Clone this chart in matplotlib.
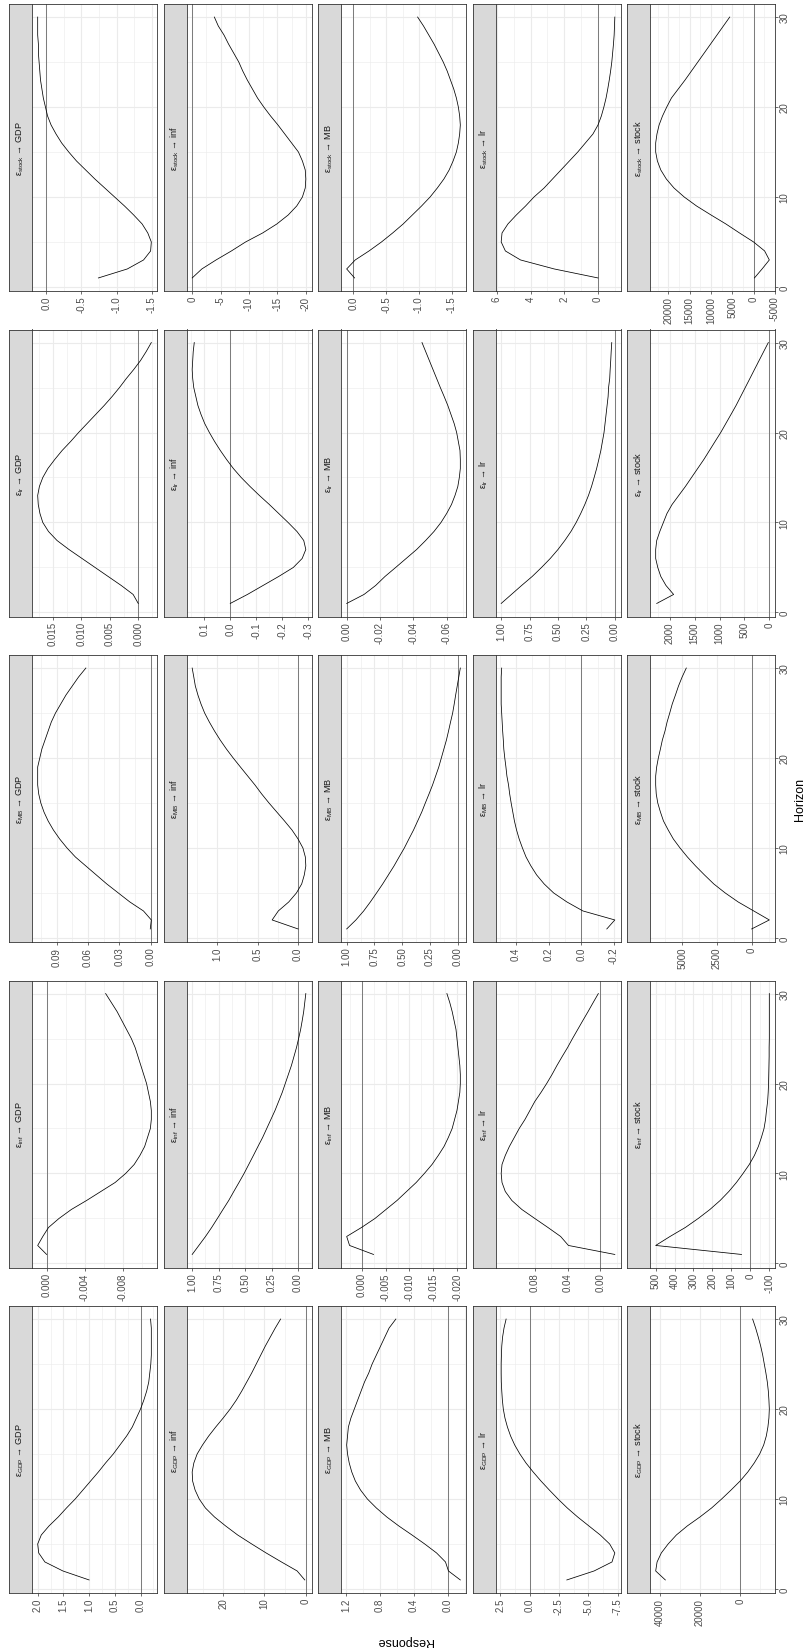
import numpy as np
import matplotlib
matplotlib.use('Agg')
import matplotlib.pyplot as plt
from matplotlib.ticker import FixedLocator

plt.rcParams['font.family'] = ['Liberation Sans', 'DejaVu Sans']
plt.rcParams['mathtext.fontset'] = 'custom'
plt.rcParams['mathtext.rm'] = 'Liberation Sans'
plt.rcParams['mathtext.it'] = 'Liberation Sans:italic'

variables = ['GDP', 'inf', 'MB', 'lr', 'stock']
horizon = list(range(1, 31))

# impulse responses, named shock_response
gdp_gdp = [1.0, 1.51, 1.86, 1.98, 2.0, 1.93, 1.78, 1.60, 1.44, 1.27, 1.12, 0.97, 0.82, 0.68, 0.53,
           0.40, 0.27, 0.16, 0.08, 0.0, -0.065, -0.12, -0.16, -0.18, -0.2, -0.21, -0.21, -0.21, -0.21, -0.195]
gdp_inf = [0.25, 2.1, 5.9, 9.6, 13.1, 16.5, 19.4, 22.1, 24.3, 25.8, 26.8, 27.4, 27.5, 27.1, 26.3,
           25.0, 23.5, 21.8, 20.0, 18.3, 16.8, 15.5, 14.3, 13.1, 12.0, 10.9, 9.8, 8.6, 7.4, 6.1]
gdp_mb = [-0.15, -0.01, 0.025, 0.13, 0.27, 0.42, 0.575, 0.717, 0.84, 0.946, 1.027, 1.088, 1.13, 1.16, 1.18,
          1.19, 1.18, 1.17, 1.14, 1.10, 1.06, 1.02, 0.98, 0.93, 0.89, 0.84, 0.79, 0.74, 0.69, 0.61]
gdp_lr = [-3.16, -5.48, -7.0, -7.24, -6.8, -6.0, -5.04, -4.08, -3.2, -2.41, -1.67, -0.96, -0.3, 0.31, 0.83,
          1.27, 1.62, 1.89, 2.1, 2.24, 2.32, 2.37, 2.41, 2.42, 2.42, 2.40, 2.37, 2.30, 2.18, 2.0]
gdp_stock = [37200, 42000, 41300, 39200, 35800, 31700, 26300, 20000, 14200, 9200, 4500, 0, -3800, -7000, -9700,
             -11700, -13000, -13800, -14300, -14500, -14300, -14000, -13500, -12800, -12000, -11200, -10200, -9000, -7700, -6200]

inf_gdp = [0, 0.00094, 0.0004, -0.0002, -0.0013, -0.0026, -0.0042, -0.0057, -0.0072, -0.0083, -0.0092, -0.0098,
           -0.0103, -0.0106, -0.0109, -0.011, -0.011, -0.0109, -0.0107, -0.0105, -0.0102, -0.0099, -0.0096, -0.0093,
           -0.0089, -0.0084, -0.0079, -0.0074, -0.0068, -0.0062]
inf_inf = [1.0, 0.937, 0.874, 0.816, 0.762, 0.709, 0.655, 0.607, 0.558, 0.51, 0.466, 0.422, 0.379, 0.335, 0.296,
           0.257, 0.218, 0.184, 0.15, 0.121, 0.092, 0.063, 0.039, 0.015, -0.005, -0.024, -0.039, -0.053, -0.063, -0.073]
inf_mb = [-0.0025, 0.0025, 0.0031, 0.0, -0.0028, -0.0051, -0.0074, -0.0094, -0.0114, -0.0131, -0.0147, -0.016,
          -0.0172, -0.0181, -0.0189, -0.0194, -0.0199, -0.0202, -0.0205, -0.0206, -0.0206, -0.0205, -0.0203, -0.0201,
          -0.0199, -0.0197, -0.0193, -0.0189, -0.0184, -0.0178]
inf_lr = [-0.0176, 0.039, 0.0485, 0.064, 0.08, 0.0958, 0.108, 0.116, 0.12, 0.121, 0.12, 0.116, 0.111, 0.105, 0.099,
          0.092, 0.086, 0.08, 0.0725, 0.0655, 0.059, 0.053, 0.0466, 0.040, 0.034, 0.0277, 0.0214, 0.015, 0.0088, 0.0025]
inf_stock = [46, 500, 424, 343, 275, 213, 159, 113, 73, 38, 5, -22, -43, -59, -73,
             -81, -86, -92, -95, -97, -98, -99, -100, -100, -101, -101, -101, -101, -101, -101]

mb_gdp = [0.0005, -0.0005, 0.007, 0.020, 0.031, 0.042, 0.052, 0.062, 0.072, 0.080, 0.087, 0.093, 0.098, 0.102, 0.105,
          0.107, 0.108, 0.108, 0.108, 0.106, 0.104, 0.101, 0.098, 0.095, 0.091, 0.086, 0.081, 0.075, 0.069, 0.062]
mb_inf = [0.0, 0.32, 0.244, 0.115, 0.02, -0.045, -0.077, -0.096, -0.09, -0.06, 0.0, 0.075, 0.167, 0.263, 0.359,
          0.449, 0.532, 0.622, 0.712, 0.801, 0.885, 0.962, 1.032, 1.096, 1.154, 1.199, 1.237, 1.269, 1.288, 1.308]
mb_mb = [1.0, 0.917, 0.847, 0.787, 0.731, 0.676, 0.625, 0.574, 0.528, 0.481, 0.44, 0.398, 0.361, 0.324, 0.292,
         0.259, 0.227, 0.199, 0.171, 0.148, 0.125, 0.102, 0.083, 0.065, 0.046, 0.032, 0.019, 0.005, -0.009, -0.023]
mb_lr = [-0.156, -0.205, -0.01, 0.088, 0.169, 0.227, 0.273, 0.308, 0.338, 0.36, 0.38, 0.396, 0.409, 0.419, 0.429,
         0.438, 0.445, 0.455, 0.461, 0.468, 0.474, 0.477, 0.481, 0.484, 0.487, 0.49, 0.49, 0.49, 0.49, 0.487]
mb_stock = [0, -1270, -150, 970, 1900, 2720, 3390, 4030, 4620, 5150, 5630, 6000, 6340, 6560, 6750,
            6860, 6900, 6900, 6830, 6710, 6560, 6420, 6230, 6080, 5890, 5710, 5480, 5260, 5000, 4700]

lr_gdp = [0, 0.0009, 0.003, 0.0053, 0.0076, 0.0099, 0.0122, 0.0143, 0.0158, 0.0168, 0.0173, 0.0176, 0.0177, 0.0174,
          0.0168, 0.0159, 0.0147, 0.0134, 0.0119, 0.0105, 0.0090, 0.0075, 0.0060, 0.0046, 0.0033, 0.0021, 0.0008,
          -0.0004, -0.0014, -0.0023]
lr_inf = [0, -0.066, -0.126, -0.186, -0.242, -0.276, -0.29, -0.282, -0.256, -0.222, -0.186, -0.15, -0.112, -0.076,
          -0.042, -0.012, 0.014, 0.038, 0.06, 0.08, 0.098, 0.112, 0.124, 0.132, 0.14, 0.144, 0.146, 0.144, 0.142, 0.138]
lr_mb = [0, -0.0104, -0.0174, -0.023, -0.0294, -0.0357, -0.042, -0.0474, -0.0524, -0.0566, -0.06, -0.0629, -0.065,
         -0.0667, -0.0676, -0.0682, -0.0682, -0.068, -0.067, -0.066, -0.0645, -0.0626, -0.0607, -0.0585, -0.0562,
         -0.054, -0.0518, -0.0496, -0.0474, -0.0452]
lr_lr = [1.0, 0.91, 0.82, 0.727, 0.645, 0.568, 0.5, 0.44, 0.386, 0.34, 0.3, 0.264, 0.232, 0.205, 0.182,
         0.16, 0.141, 0.123, 0.109, 0.095, 0.086, 0.077, 0.068, 0.059, 0.055, 0.045, 0.041, 0.036, 0.032, 0.027]
lr_stock = [2266, 1926, 2080, 2184, 2245, 2287, 2287, 2266, 2204, 2132, 2060, 1957, 1823, 1689, 1566,
            1442, 1318, 1205, 1092, 978, 875, 772, 670, 577, 484, 391, 299, 206, 113, 20]

stock_gdp = [-0.74, -1.15, -1.38, -1.48, -1.49, -1.44, -1.36, -1.24, -1.11, -0.97, -0.83, -0.69, -0.56, -0.43, -0.32,
             -0.22, -0.14, -0.07, -0.02, 0.01, 0.04, 0.06, 0.08, 0.09, 0.10, 0.11, 0.11, 0.12, 0.12, 0.12]
stock_inf = [0, -1.7, -4.2, -6.9, -9.4, -12.4, -14.9, -16.9, -18.4, -19.4, -19.9, -20.0, -19.9, -19.4, -18.7,
             -17.5, -16.3, -15.1, -13.8, -12.6, -11.5, -10.6, -9.7, -8.9, -8.2, -7.3, -6.4, -5.6, -4.6, -3.9]
stock_mb = [-0.02, 0.10, -0.03, -0.24, -0.43, -0.60, -0.76, -0.90, -1.04, -1.17, -1.28, -1.38, -1.46, -1.52, -1.57,
            -1.60, -1.62, -1.63, -1.62, -1.60, -1.57, -1.53, -1.48, -1.43, -1.37, -1.30, -1.23, -1.15, -1.07, -0.98]
stock_lr = [0, 2.6, 4.6, 5.5, 5.75, 5.7, 5.35, 4.85, 4.3, 3.8, 3.2, 2.7, 2.2, 1.7, 1.2,
            0.75, 0.3, 0.0, -0.2, -0.35, -0.48, -0.58, -0.67, -0.75, -0.82, -0.87, -0.92, -0.96, -0.98, -1.0]
stock_stock = [-200, -2000, -3700, -2600, 0, 3300, 6500, 10000, 13400, 16300, 18700, 20500, 21800, 22600, 23000,
               23000, 22700, 22200, 21400, 20400, 19300, 17700, 16100, 14600, 13100, 11600, 10100, 8600, 7100, 5600]

irf = {
    ('GDP', 'GDP'): gdp_gdp, ('GDP', 'inf'): gdp_inf, ('GDP', 'MB'): gdp_mb, ('GDP', 'lr'): gdp_lr, ('GDP', 'stock'): gdp_stock,
    ('inf', 'GDP'): inf_gdp, ('inf', 'inf'): inf_inf, ('inf', 'MB'): inf_mb, ('inf', 'lr'): inf_lr, ('inf', 'stock'): inf_stock,
    ('MB', 'GDP'): mb_gdp, ('MB', 'inf'): mb_inf, ('MB', 'MB'): mb_mb, ('MB', 'lr'): mb_lr, ('MB', 'stock'): mb_stock,
    ('lr', 'GDP'): lr_gdp, ('lr', 'inf'): lr_inf, ('lr', 'MB'): lr_mb, ('lr', 'lr'): lr_lr, ('lr', 'stock'): lr_stock,
    ('stock', 'GDP'): stock_gdp, ('stock', 'inf'): stock_inf, ('stock', 'MB'): stock_mb, ('stock', 'lr'): stock_lr,
    ('stock', 'stock'): stock_stock,
}

# response axis breaks per panel
breaks = {
    ('GDP', 'GDP'): [2.0, 1.5, 1.0, 0.5, 0.0], ('GDP', 'inf'): [20, 10, 0], ('GDP', 'MB'): [1.2, 0.8, 0.4, 0.0],
    ('GDP', 'lr'): [2.5, 0.0, -2.5, -5.0, -7.5], ('GDP', 'stock'): [40000, 20000, 0],
    ('inf', 'GDP'): [0.000, -0.004, -0.008], ('inf', 'inf'): [1.00, 0.75, 0.50, 0.25, 0.00],
    ('inf', 'MB'): [0.000, -0.005, -0.010, -0.015, -0.020], ('inf', 'lr'): [0.08, 0.04, 0.00],
    ('inf', 'stock'): [500, 400, 300, 200, 100, 0, -100],
    ('MB', 'GDP'): [0.09, 0.06, 0.03, 0.00], ('MB', 'inf'): [1.0, 0.5, 0.0], ('MB', 'MB'): [1.00, 0.75, 0.50, 0.25, 0.00],
    ('MB', 'lr'): [0.4, 0.2, 0.0, -0.2], ('MB', 'stock'): [5000, 2500, 0],
    ('lr', 'GDP'): [0.015, 0.010, 0.005, 0.000], ('lr', 'inf'): [0.1, 0.0, -0.1, -0.2, -0.3],
    ('lr', 'MB'): [0.00, -0.02, -0.04, -0.06], ('lr', 'lr'): [1.00, 0.75, 0.50, 0.25, 0.00],
    ('lr', 'stock'): [2000, 1500, 1000, 500, 0],
    ('stock', 'GDP'): [0.0, -0.5, -1.0, -1.5], ('stock', 'inf'): [0, -5, -10, -15, -20],
    ('stock', 'MB'): [0.0, -0.5, -1.0, -1.5], ('stock', 'lr'): [6, 4, 2, 0],
    ('stock', 'stock'): [20000, 15000, 10000, 5000, 0, -5000],
}


def labels_for(ticks):
    for d in range(6):
        if all(abs(round(t, d) - t) < 1e-9 for t in ticks):
            break
    return [f"{t:.{d}f}" for t in ticks]


W, H = 808, 1649
fig = plt.figure(figsize=(W / 100, H / 100), dpi=100)


def box(left, top, w, h):
    return [left / W, 1 - (top + h) / H, w / W, h / H]


border = '#333333'
grid = '#EBEBEB'
strip_w, panel_w, panel_h = 23, 148, 287

for r in range(5):
    shock = variables[4 - r]
    for c in range(5):
        resp = variables[c]
        left = 9 + 154.5 * c
        top = 5 + 325.5 * r

        sax = fig.add_axes(box(left, top, strip_w, panel_h))
        sax.set_facecolor('#D9D9D9')
        sax.set_xticks([])
        sax.set_yticks([])
        for s in sax.spines.values():
            s.set_color(border)
            s.set_linewidth(0.6)
        sax.text(0.5, 0.5, r'$\mathrm{\varepsilon}_{\mathrm{%s}}$ → %s' % (shock, resp),
                 rotation=90, ha='center', va='center', transform=sax.transAxes,
                 fontsize=6.6, color='#1A1A1A')

        ax = fig.add_axes(box(left + strip_w, top, panel_w - strip_w, panel_h))
        vals = np.array(irf[(shock, resp)])
        lo = min(vals.min(), 0)
        hi = max(vals.max(), 0)
        pad = (hi - lo) * 0.05
        ax.set_xlim(hi + pad, lo - pad)
        ax.set_ylim(-0.45, 31.45)

        tk = breaks[(shock, resp)]
        step = abs(tk[0] - tk[1])
        minor = np.arange(min(tk) - step / 2, max(tk) + step, step)
        minor = [m for m in minor if lo - pad <= m <= hi + pad]
        ax.xaxis.set_major_locator(FixedLocator(tk))
        ax.xaxis.set_minor_locator(FixedLocator(minor))
        ax.set_xticklabels(labels_for(tk))
        ax.yaxis.set_major_locator(FixedLocator([0, 10, 20, 30]))
        ax.yaxis.set_minor_locator(FixedLocator([5, 15, 25]))

        ax.grid(which='major', color=grid, lw=0.8)
        ax.grid(which='minor', color=grid, lw=0.4)
        ax.set_axisbelow(True)

        ax.axvline(0, color='#4D4D4D', lw=0.5, zorder=2)
        ax.plot(vals, horizon, color='black', lw=0.55, zorder=3)

        for s in ax.spines.values():
            s.set_color(border)
            s.set_linewidth(0.6)
        ax.tick_params(which='minor', length=0)
        ax.tick_params(axis='x', which='major', direction='out', length=2.2, width=0.5, color=border,
                       labelsize=7, labelcolor='#4D4D4D', pad=1.2, labelrotation=90)
        if c == 4:
            ax.yaxis.tick_right()
            ax.set_yticklabels(['0', '10', '20', '30'])
            ax.tick_params(axis='y', which='major', direction='out', length=2.2, width=0.5, color=border,
                           labelsize=7, labelcolor='#4D4D4D', pad=1.2, labelrotation=90)
            for lab in ax.get_yticklabels():
                lab.set_verticalalignment('center')
        else:
            ax.tick_params(axis='y', which='major', length=0, labelleft=False)

fig.text(405 / W, 1 - 1641 / H, 'Response', rotation=180, ha='center', va='center', fontsize=9, color='black')
fig.text(800 / W, 1 - 799 / H, 'Horizon', rotation=90, ha='center', va='center', fontsize=9, color='black')

fig.savefig('out.png', dpi=100, facecolor='white')
